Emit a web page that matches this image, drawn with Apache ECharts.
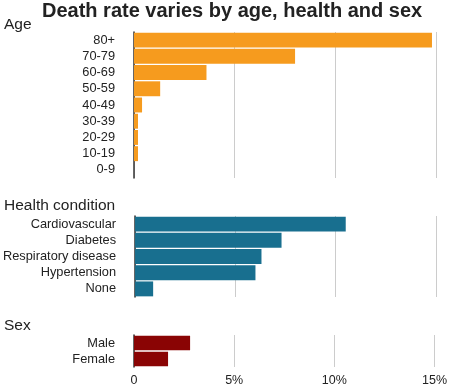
<!DOCTYPE html>
<html><head><meta charset="utf-8">
<script src="https://cdn.jsdelivr.net/npm/echarts@6/dist/echarts.min.js"></script>
<style>html,body{margin:0;padding:0;background:#fff}#c{width:450px;height:388px}</style>
</head><body><div id="c"></div>
<script>
const ageCats = ['80+','70-79','60-69','50-59','40-49','30-39','20-29','10-19','0-9'];
const ageVals = [14.8, 8.0, 3.6, 1.3, 0.4, 0.2, 0.2, 0.2, 0];
const healthCats = ['Cardiovascular','Diabetes','Respiratory disease','Hypertension','None'];
const healthVals = [10.5, 7.3, 6.3, 6.0, 0.9];
const sexCats = ['Male','Female'];
const sexVals = [2.8, 1.7];
const xTicks = [0, 5, 10, 15];

const FONT = '"Liberation Sans", Arial, sans-serif';
const grids = [
  {left:134, right:14, top:32, height:146},
  {left:134, right:14, top:216, height:81},
  {left:134, right:14, top:335, height:32}
];
const cats = [ageCats, healthCats, sexCats];
const vals = [ageVals, healthVals, sexVals];
const colors = ['#F69B1E', '#186F8F', '#8A0404'];

const chart = echarts.init(document.getElementById('c'), null, {renderer:'canvas'});
chart.setOption({
  animation:false,
  backgroundColor:'#fff',
  title:[
    {text:'Death rate varies by age, health and sex', left:42, top:1,
     textStyle:{fontFamily:FONT, fontWeight:'bold', fontSize:20, color:'#222'}, padding:0},
    {text:'Age', left:4, top:17, textStyle:{fontFamily:FONT, fontWeight:'normal', fontSize:15.5, color:'#222'}, padding:0},
    {text:'Health condition', left:4, top:198, textStyle:{fontFamily:FONT, fontWeight:'normal', fontSize:15.5, color:'#222'}, padding:0},
    {text:'Sex', left:4, top:318, textStyle:{fontFamily:FONT, fontWeight:'normal', fontSize:15.5, color:'#222'}, padding:0}
  ],
  grid: grids,
  xAxis: grids.map((g,i)=>({
    type:'value', gridIndex:i, min:xTicks[0], max:xTicks[xTicks.length-1], interval:5,
    axisLine:{show:false}, axisTick:{show:false},
    splitLine:{show:true, lineStyle:{color:'#cccccc', width:1}},
    axisLabel:{show:i===2, margin:7, fontFamily:FONT, fontSize:12.5, color:'#222',
      formatter:v=> v===0 ? '0' : v+'%'}
  })),
  yAxis: grids.map((g,i)=>({
    type:'category', gridIndex:i, data:cats[i], inverse:true,
    axisLine:{show:true, lineStyle:{color:'#333', width:1.5}},
    axisTick:{show:false},
    axisLabel:{interval:0, margin:19, fontFamily:FONT, fontSize:12.8, color:'#222'}
  })),
  series: vals.map((v,i)=>({
    type:'bar', xAxisIndex:i, yAxisIndex:i, data:v, barCategoryGap:'8%',
    itemStyle:{color:colors[i]}, silent:true
  }))
});
</script></body></html>
